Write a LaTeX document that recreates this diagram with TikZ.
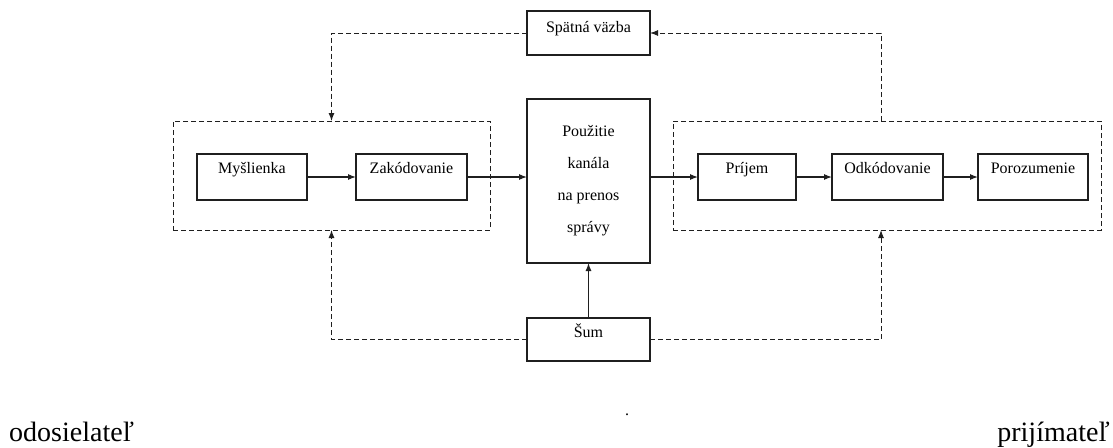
\documentclass[tikz,border=0pt]{standalone}
\usepackage{fontspec}
\setmainfont{Liberation Serif}
\usetikzlibrary{arrows.meta}
\begin{document}
\begin{tikzpicture}[x=1pt,y=-1pt,
  box/.style={draw=black!88, line width=1.1pt, inner sep=0pt, outer sep=0pt},
  grp/.style={draw=black!88, line width=1pt, dash pattern=on 5pt off 3pt, inner sep=0pt, outer sep=0pt},
  lbl/.style={anchor=base, inner sep=0pt, font=\fontsize{16}{19}\selectfont, text=black},
  arr/.style={draw=black!88, line width=1.1pt, -{Latex[length=8pt,width=6pt]}},
  dsh/.style={draw=black!88, line width=1pt, dash pattern=on 5pt off 3pt, -{Latex[length=8pt,width=6pt]}},
  bot/.style={inner sep=0pt, font=\fontsize{28}{32}\selectfont, text=black}]
  \useasboundingbox[fill=white] (0,0) rectangle (1113,447);

  % sender and receiver groups
  \node[grp, minimum width=317pt, minimum height=109pt] (snd) at (331.5,175.5) {};
  \node[grp, minimum width=428pt, minimum height=109pt] (rcv) at (887,175.5) {};

  % feedback, channel and noise
  \node[box, minimum width=123pt, minimum height=44pt,
        label={[lbl,yshift=-21pt]north:Spätná väzba}] (spv) at (588.5,33) {};
  \node[box, minimum width=123pt, minimum height=164pt,
        label={[lbl,yshift=-37pt]north:Použitie},
        label={[lbl,yshift=-69pt]north:kanála},
        label={[lbl,yshift=-101pt]north:na prenos},
        label={[lbl,yshift=-133pt]north:správy}] (chan) at (588.5,181) {};
  \node[box, minimum width=123pt, minimum height=43pt,
        label={[lbl,yshift=-19pt]north:Šum}] (sum) at (588.5,339.5) {};

  % process steps
  \node[box, minimum width=110pt, minimum height=46pt,
        label={[lbl,yshift=-19pt]north:Myšlienka}] (mys) at (252,177) {};
  \node[box, minimum width=111pt, minimum height=46pt,
        label={[lbl,yshift=-19pt]north:Zakódovanie}] (zak) at (411.5,177) {};
  \node[box, minimum width=98pt, minimum height=46pt,
        label={[lbl,yshift=-19pt]north:Príjem}] (prij) at (747,177) {};
  \node[box, minimum width=111pt, minimum height=46pt,
        label={[lbl,yshift=-19pt]north:Odkódovanie}] (odk) at (887.5,177) {};
  \node[box, minimum width=110pt, minimum height=46pt,
        label={[lbl,yshift=-19pt]north:Porozumenie}] (por) at (1033,177) {};

  % solid flow
  \draw[arr] (mys) -- (zak);
  \draw[arr] (zak.east) -- (zak.east -| chan.west);
  \draw[arr] (chan.east |- prij.west) -- (prij.west);
  \draw[arr] (prij) -- (odk);
  \draw[arr] (odk) -- (por);
  \draw[arr] (sum) -- (chan);

  % dashed feedback and noise paths
  \coordinate (fbx) at (881,0);
  \draw[dsh] (sum.west) -| (snd.south);
  \draw[dsh] (sum.east) -| (rcv.south -| fbx);
  \draw[dsh] (rcv.north -| fbx) |- (spv.east);
  \draw[dsh] (spv.west) -| (snd.north);

  % captions
  \node[bot, anchor=base west] (odo) at (9,441) {odosielateľ};
  \node[bot, anchor=base east] (pri) at (1110,441) {prijímateľ};
  \node[lbl] (dot) at (627,415) {.};
\end{tikzpicture}
\end{document}
